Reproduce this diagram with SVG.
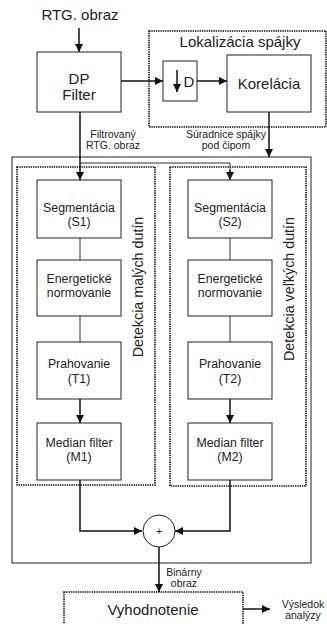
<svg xmlns="http://www.w3.org/2000/svg" width="327" height="624" viewBox="0 0 327 624">
  <defs>
    <marker id="arrow" viewBox="0 0 10 10" refX="10" refY="5" markerWidth="8" markerHeight="8" markerUnits="userSpaceOnUse" orient="auto">
      <path d="M0,0 L10,5 L0,10 z" fill="#111"/>
    </marker>
    <style>
      .box { fill: #fff; stroke: #222; stroke-width: 1; }
      .group { fill: none; stroke: #111; stroke-width: 1.6; stroke-dasharray: 1.4 0.9; }
      .frame { fill: none; stroke: #222; stroke-width: 1; }
      .wire { fill: none; stroke: #111; stroke-width: 1.5; }
      .thin { fill: none; stroke: #333; stroke-width: 1; }
      .big { font-family: "Liberation Sans", Arial, sans-serif; font-size: 15px; fill: #222; text-anchor: middle; }
      .mid { font-family: "Liberation Sans", Arial, sans-serif; font-size: 12.3px; fill: #222; text-anchor: middle; }
      .small { font-family: "Liberation Sans", Arial, sans-serif; font-size: 10.5px; fill: #222; text-anchor: middle; }
      .side { font-family: "Liberation Sans", Arial, sans-serif; font-size: 14.3px; fill: #222; text-anchor: middle; }
    </style>
  </defs>

  <!-- enclosing frames -->
  <rect class="frame" x="12" y="157" width="299" height="406"/>
  <rect class="group" x="149" y="31" width="177" height="96"/>
  <rect class="group" x="17" y="167" width="138" height="318"/>
  <rect class="group" x="170" y="167" width="136" height="319"/>
  <rect class="group" x="64" y="592" width="179" height="40"/>

  <!-- connectors -->
  <g id="connectors">
    <line class="wire" x1="79" y1="28" x2="79" y2="52" marker-end="url(#arrow)"/>
    <line class="wire" x1="121" y1="81" x2="163" y2="81" marker-end="url(#arrow)"/>
    <line class="wire" x1="197" y1="81" x2="227" y2="81" marker-end="url(#arrow)"/>
    <line class="wire" x1="269" y1="112" x2="269" y2="157" marker-end="url(#arrow)"/>
    <line class="wire" x1="80" y1="112" x2="80" y2="180" marker-end="url(#arrow)"/>
    <polyline class="thin" points="80,163 230,163 230,172"/>
    <line class="wire" x1="230" y1="170" x2="230" y2="180" marker-end="url(#arrow)"/>
    <line class="thin" x1="80" y1="238" x2="80" y2="260"/>
    <line class="thin" x1="80" y1="316" x2="80" y2="342"/>
    <line class="wire" x1="80" y1="399" x2="80" y2="423" marker-end="url(#arrow)"/>
    <line class="thin" x1="230" y1="238" x2="230" y2="260"/>
    <line class="thin" x1="230" y1="316" x2="230" y2="342"/>
    <line class="wire" x1="230" y1="399" x2="230" y2="423" marker-end="url(#arrow)"/>
    <polyline class="wire" points="80,480 80,531 142,531" marker-end="url(#arrow)"/>
    <polyline class="wire" points="230,480 230,531 175,531" marker-end="url(#arrow)"/>
    <line class="wire" x1="159" y1="547" x2="159" y2="592" marker-end="url(#arrow)"/>
    <line class="wire" x1="243" y1="609" x2="270" y2="609" marker-end="url(#arrow)"/>
  </g>

  <!-- input / output labels -->
  <text class="big" x="80" y="20">RTG. obraz</text>
  <text class="small" x="113" y="138">Filtrovaný</text>
  <text class="small" x="113" y="149">RTG. obraz</text>
  <text class="small" x="226" y="138">Súradnice spájky</text>
  <text class="small" x="226" y="149">pod čipom</text>
  <text class="small" x="184" y="576">Binárny</text>
  <text class="small" x="184" y="587">obraz</text>
  <text class="small" x="303" y="608">Výsledok</text>
  <text class="small" x="303" y="619">analýzy</text>

  <!-- group captions -->
  <text class="big" x="240" y="47">Lokalizácia spájky</text>
  <text class="side" transform="translate(143 287) rotate(-90)">Detekcia malých dutín</text>
  <text class="side" transform="translate(294 289) rotate(-90)">Detekcia veľkých dutín</text>
  <text class="big" x="153" y="615">Vyhodnotenie</text>

  <!-- processing blocks -->
  <g id="dp-filter">
    <rect class="box" x="37" y="52" width="84" height="60"/>
    <text class="big" x="79" y="84">DP</text>
    <text class="big" x="79" y="100">Filter</text>
  </g>
  <g id="decimate">
    <rect class="box" x="163" y="61" width="34" height="40"/>
    <line class="wire" x1="177" y1="70" x2="177" y2="92" marker-end="url(#arrow)"/>
    <text class="big" x="189" y="87">D</text>
  </g>
  <g id="korelacia">
    <rect class="box" x="227" y="55" width="84" height="57"/>
    <text class="big" x="269" y="89">Korelácia</text>
  </g>

  <g id="s1">
    <rect class="box" x="37" y="180" width="84" height="58"/>
    <text class="mid" x="79" y="212">Segmentácia</text>
    <text class="mid" x="79" y="226">(S1)</text>
  </g>
  <g id="en1">
    <rect class="box" x="37" y="260" width="84" height="56"/>
    <text class="mid" x="79" y="283">Energetické</text>
    <text class="mid" x="79" y="297">normovanie</text>
  </g>
  <g id="t1">
    <rect class="box" x="37" y="342" width="84" height="57"/>
    <text class="mid" x="79" y="368">Prahovanie</text>
    <text class="mid" x="79" y="383">(T1)</text>
  </g>
  <g id="m1">
    <rect class="box" x="37" y="423" width="84" height="57"/>
    <text class="mid" x="79" y="447">Median filter</text>
    <text class="mid" x="79" y="461">(M1)</text>
  </g>

  <g id="s2">
    <rect class="box" x="188" y="180" width="84" height="58"/>
    <text class="mid" x="230" y="212">Segmentácia</text>
    <text class="mid" x="230" y="226">(S2)</text>
  </g>
  <g id="en2">
    <rect class="box" x="188" y="260" width="84" height="56"/>
    <text class="mid" x="230" y="283">Energetické</text>
    <text class="mid" x="230" y="297">normovanie</text>
  </g>
  <g id="t2">
    <rect class="box" x="188" y="342" width="84" height="57"/>
    <text class="mid" x="230" y="368">Prahovanie</text>
    <text class="mid" x="230" y="383">(T2)</text>
  </g>
  <g id="m2">
    <rect class="box" x="188" y="423" width="84" height="57"/>
    <text class="mid" x="230" y="447">Median filter</text>
    <text class="mid" x="230" y="461">(M2)</text>
  </g>

  <g id="sum">
    <circle class="box" cx="159" cy="531" r="16"/>
    <text class="small" x="159" y="535">+</text>
  </g>
</svg>
